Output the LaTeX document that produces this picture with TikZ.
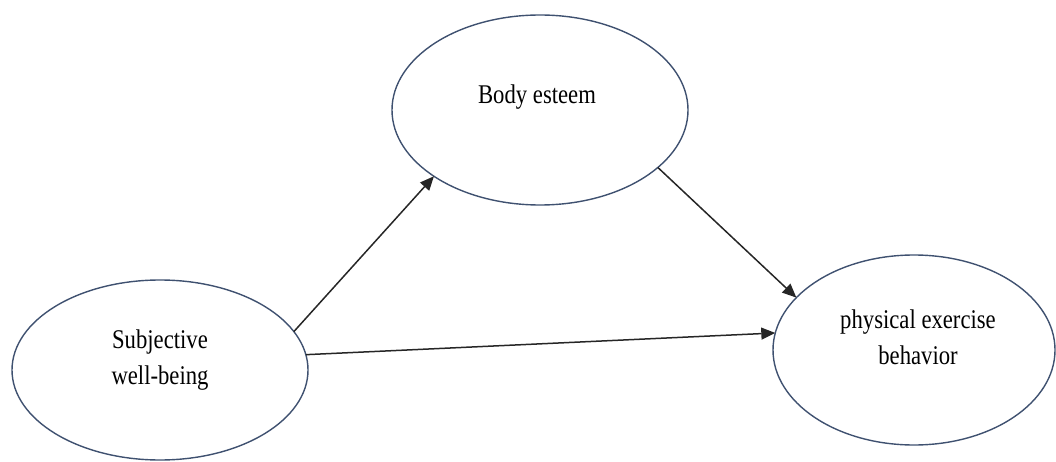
\documentclass[tikz,border=0pt]{standalone}
\usepackage{fontspec}
\setmainfont{Liberation Serif}
\newfontfamily\condfont[FakeStretch=0.84]{Liberation Serif}
\usetikzlibrary{shapes.geometric,arrows.meta}
\definecolor{ellcol}{HTML}{3F5170}
\begin{document}
\begin{tikzpicture}[x=1pt,y=-1pt,
  oval/.style={ellipse,draw=ellcol,line width=1.4pt,inner sep=0pt,outer sep=0pt},
  lbl/.style={font=\condfont\fontsize{27}{36}\selectfont,align=center,inner sep=0pt,text=black},
  link/.style={line width=1.5pt,draw=black!85,-{Triangle[length=14pt,width=12pt]}}]
\useasboundingbox (0,0) rectangle (1056,462);
\node[oval,minimum width=296pt,minimum height=180pt] (swb) at (160,370) {};
\node[oval,minimum width=296pt,minimum height=190pt] (be) at (540,110) {};
\node[oval,minimum width=282pt,minimum height=190pt] (peb) at (914,350) {};
\node[lbl] (swbt) at (160,360) {Subjective\\well-being};
\node[lbl] (bet) at (537,97) {Body esteem};
\node[lbl] (pebt) at (918,337) {physical exercise\\behavior};
\draw[link] (swb.16.5) -- (be.212.5);
\draw[link] (swb.6) -- (peb.173.6);
\draw[link] (be.334) -- (peb.156.7);
\end{tikzpicture}
\end{document}
